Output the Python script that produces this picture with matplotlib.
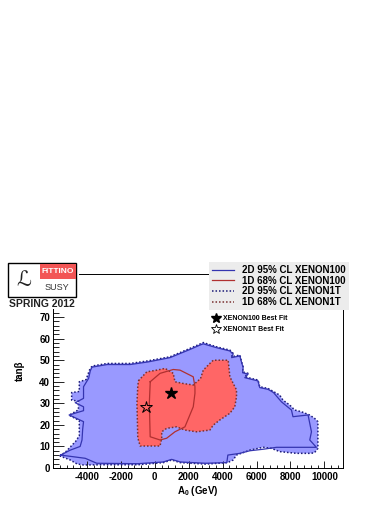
import matplotlib
matplotlib.use("Agg")
import matplotlib.pyplot as plt
from matplotlib.lines import Line2D
from matplotlib.patches import Rectangle
from matplotlib.ticker import MultipleLocator, FuncFormatter

plt.rcParams['font.family'] = ['Liberation Sans', 'DejaVu Sans']
plt.rcParams['mathtext.fontset'] = 'custom'
plt.rcParams['mathtext.rm'] = 'Liberation Sans:bold'
plt.rcParams['mathtext.it'] = 'Liberation Sans:bold'
plt.rcParams['axes.unicode_minus'] = False

# XENON1T, 2D 95% CL region (filled, dotted outline)
x1t_2d_a0 = [-5600, -5250, -4950, -4650, -4450, -4450, -5050, -4500, -4500, -4900,
             -4900, -4450, -4450, -4050, -3850, -3700, -2800, -1450, -400, 900,
             2080, 2660, 2860, 3650, 4430, 4620, 4530, 5020, 5120, 5210,
             5180, 5500, 5310, 6090, 6190, 6680, 7370, 7560, 7960, 8250,
             8650, 9130, 9430, 9620, 9620, 9430, 9240, 8350, 7370, 6880,
             6390, 5610, 4820, 4620, 4300, 3000, 1500, 1000, 500, -1000,
             -3000, -4200, -4590, -4980]
x1t_2d_tanb = [5.6, 7.5, 10, 12.5, 15, 22, 24.5, 27, 31, 31.5,
               35, 35.5, 40, 41, 45.4, 47.3, 48.5, 48.5, 49.7, 51.6,
               55.5, 57.5, 58.2, 56.2, 54.7, 53.2, 51.6, 52.4, 49.3, 47,
               44.6, 43.9, 42.3, 40.8, 37.7, 36.9, 33.8, 31.5, 29.2, 26.9,
               26.1, 24.6, 23, 21.5, 9.1, 7.2, 6.8, 6.8, 7.6, 9.1,
               9.6, 8.3, 6.0, 3.7, 2.5, 1.8, 2.5, 3.7, 2.5, 1.5,
               1.5, 1.4, 1.9, 3.7]

# XENON100, 2D 95% CL contour (solid)
x100_2d_a0 = [-5550, -4980, -4400, -4290, -4250, -4200, -5050, -4200, -4200, -4690,
              -4200, -4200, -3900, -3800, -3700, -2800, -1450, -400, 900, 2080,
              2660, 2860, 3650, 4430, 4620, 4530, 5020, 5120, 5210, 5180,
              5500, 5310, 6090, 6190, 6680, 7000, 7470, 8060, 8150, 9040,
              9240, 9140, 9530, 8350, 7180, 6390, 5610, 5020, 4310, 4250,
              3000, 1500, 1000, 500, -1000, -3420, -4100, -5550]
x100_2d_tanb = [6.0, 8.3, 10, 13, 18, 21.5, 24.6, 26.6, 28.4, 30.3,
                32.3, 37.7, 41.6, 45.1, 46.8, 48, 48, 49.2, 51.2, 55,
                57, 57.6, 55.8, 54.3, 52.8, 51.2, 52, 49, 46.6, 44.2,
                43.5, 41.9, 40.4, 37.3, 36.5, 35, 30.7, 26.9, 23.8, 24.6,
                16.8, 13, 9.6, 9.6, 9.6, 8.7, 8, 6.8, 6.0, 2.5,
                2.2, 2.8, 4.0, 2.8, 2.0, 2.2, 4.5, 6.0]

# XENON1T, 1D 68% CL region (filled, dotted outline)
x1t_1d_a0 = [-960, -470, 120, 610, 1090, 1190, 1680, 2270, 2700, 2860,
             3250, 3450, 4330, 4430, 4820, 4820, 4720, 4430, 3840, 3450,
             3250, 2470, 1780, 1290, 700, 410, 410, 310, -860, -1000,
             -1050, -1000]
x1t_1d_tanb = [40.5, 44.6, 45.4, 46.2, 43.9, 40, 39.2, 38.5, 41.5, 45.4,
               48.5, 50, 50, 42.3, 36.2, 33, 28.4, 25.4, 22.3, 19.9,
               17.6, 16.8, 17.6, 19.1, 18.4, 16.8, 13.8, 10.2, 10.2, 14,
               30, 38]

# XENON100, 1D 68% CL contour (solid)
x100_1d_a0 = [-270, 310, 1090, 1490, 2270, 2370, 2370, 2270, 1780, 1190,
              700, 310, -270, -320, -270]
x100_1d_tanb = [40, 43.9, 45.7, 45.4, 42.3, 37.7, 34.6, 28.4, 19.1, 16.8,
                13.8, 13, 14.5, 30, 39.2]

# best fit points
bf_x100 = (940, 34.6)
bf_x1t = (-510, 28.4)

legend_labels = ['2D 95% CL XENON100', '1D 68% CL XENON100',
                 '2D 95% CL XENON1T', '1D 68% CL XENON1T']

W, H = 390, 505
fig = plt.figure(figsize=(W / 100, H / 100), dpi=100)
ax = fig.add_axes([53 / W, 37 / H, 290 / W, 194 / H])

def closed(a, b):
    return list(a) + [a[0]], list(b) + [b[0]]

blue_fill = '#9999ff'
red_fill = '#ff6666'
c_blue_dot = '#1c1c78'
c_red_dot = '#7a3030'
c_blue = '#3535b0'
c_red = '#b03030'

ax.fill(x1t_2d_a0, x1t_2d_tanb, color=blue_fill, lw=0, zorder=1)
xs, ys = closed(x1t_2d_a0, x1t_2d_tanb)
l3, = ax.plot(xs, ys, color=c_blue_dot, ls=(0, (1, 1.3)), lw=1.1, zorder=2)
ax.fill(x1t_1d_a0, x1t_1d_tanb, color=red_fill, lw=0, zorder=3)
xs, ys = closed(x1t_1d_a0, x1t_1d_tanb)
l4, = ax.plot(xs, ys, color=c_red_dot, ls=(0, (1, 1.3)), lw=1.1, zorder=4)
xs, ys = closed(x100_2d_a0, x100_2d_tanb)
l1, = ax.plot(xs, ys, color=c_blue, lw=0.9, zorder=5)
xs, ys = closed(x100_1d_a0, x100_1d_tanb)
l2, = ax.plot(xs, ys, color=c_red, lw=0.9, zorder=6)

ax.plot([bf_x100[0]], [bf_x100[1]], marker='*', ms=9, color='black', ls='none', zorder=7)
ax.plot([bf_x1t[0]], [bf_x1t[1]], marker='*', ms=9, mfc='none', mec='black',
        mew=0.7, ls='none', zorder=7)

ax.set_xlim(-6000, 11100)
ax.set_ylim(0, 90)
ax.xaxis.set_major_locator(MultipleLocator(2000))
ax.xaxis.set_minor_locator(MultipleLocator(400))
ax.yaxis.set_major_locator(MultipleLocator(10))
ax.yaxis.set_minor_locator(MultipleLocator(2))
ax.set_xticks([-4000, -2000, 0, 2000, 4000, 6000, 8000, 10000])
# labels above 70 sit under the logo in the original, so leave them blank
ax.yaxis.set_major_formatter(FuncFormatter(lambda v, p: '%d' % v if v <= 70 else ''))
ax.tick_params(which='both', direction='in', top=False, right=False,
               labelsize=7, width=0.6)
ax.tick_params(axis='x', which='major', length=5, pad=3)
ax.tick_params(axis='x', which='minor', length=2.5)
ax.tick_params(axis='y', which='major', length=8, pad=2)
ax.tick_params(axis='y', which='minor', length=4)
for lab in ax.get_xticklabels() + ax.get_yticklabels():
    lab.set_fontweight('bold')
for sp in ax.spines.values():
    sp.set_linewidth(0.7)

ax.set_xlabel('A$_0$ (GeV)', fontsize=7, fontweight='bold')
ax.xaxis.set_label_coords(0.5, -0.085)
ax.set_ylabel('tanβ', fontsize=7, fontweight='bold')
ax.yaxis.set_label_coords(-0.097, 0.5)

leg = ax.legend([l1, l2, l3, l4], legend_labels, loc='upper left',
                bbox_to_anchor=(209 / W, 1 - 262 / H), bbox_transform=fig.transFigure,
                prop={'size': 7, 'weight': 'bold'}, frameon=True, fancybox=False,
                facecolor='#ececec', edgecolor='none', framealpha=1,
                handlelength=2.3, handletextpad=0.8, labelspacing=0.08,
                borderpad=0.3, borderaxespad=0)
ax.add_artist(leg)

star_h = [Line2D([], [], marker='*', ms=7, color='black', ls='none'),
          Line2D([], [], marker='*', ms=7, mfc='none', mec='black', mew=0.6, ls='none')]
leg2 = ax.legend(star_h, ['XENON100 Best Fit', 'XENON1T Best Fit'], loc='upper left',
                 bbox_to_anchor=(213 / W, 1 - 315 / H), bbox_transform=fig.transFigure,
                 prop={'size': 5, 'weight': 'bold'}, frameon=False,
                 handlelength=1.0, handletextpad=0.4, labelspacing=0.6,
                 borderpad=0, borderaxespad=0)

# Fittino logo
fig.patches.append(Rectangle((3 / W, 1 - 309 / H), 76 / W, 49 / H,
                             transform=fig.transFigure, facecolor='white',
                             edgecolor='none', zorder=5))
fig.patches.append(Rectangle((7.5 / W, 1 - 296.5 / H), 68.5 / W, 34 / H,
                             transform=fig.transFigure, facecolor='white',
                             edgecolor='black', lw=1.0, zorder=6))
fig.patches.append(Rectangle((40 / W, 1 - 278.5 / H), 36 / W, 14.5 / H,
                             transform=fig.transFigure, facecolor='#f25555',
                             edgecolor='none', zorder=7))
fig.text(58 / W, 1 - 271.5 / H, 'FITTINO', color='white', fontsize=6,
         fontweight='bold', ha='center', va='center', zorder=8)
fig.text(24 / W, 1 - 279.5 / H, '\u2112', fontsize=15, family=['DejaVu Sans'],
         ha='center', va='center', color='#222222', zorder=8)
fig.text(57 / W, 1 - 287.5 / H, 'SUSY', fontsize=6.5, color='#333333',
         ha='center', va='center', zorder=8)
fig.text(41.5 / W, 1 - 304 / H, 'SPRING 2012', fontsize=7.5, fontweight='bold',
         color='#222222', ha='center', va='center', zorder=8)

fig.savefig('out.png', dpi=100)
